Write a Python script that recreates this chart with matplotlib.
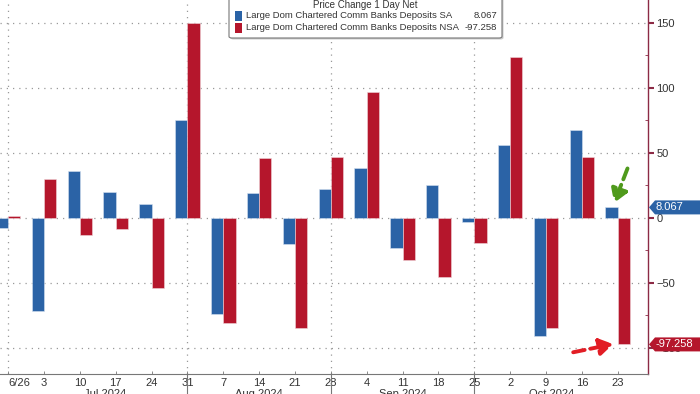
import matplotlib
matplotlib.use("Agg")
import matplotlib.pyplot as plt
import matplotlib.dates as mdates
from matplotlib.patches import Polygon, Rectangle, FancyBboxPatch
import datetime as dt

plt.rcParams["font.family"] = ["Liberation Sans", "DejaVu Sans"]

weeks = ["2024-06-26", "2024-07-03", "2024-07-10", "2024-07-17", "2024-07-24",
         "2024-07-31", "2024-08-07", "2024-08-14", "2024-08-21", "2024-08-28",
         "2024-09-04", "2024-09-11", "2024-09-18", "2024-09-25", "2024-10-02",
         "2024-10-09", "2024-10-16", "2024-10-23"]
sa = [-8, -71.5, 36, 20, 11, 75, -73.5, 19.5, -20, 22,
      38, -23.5, 25.5, -3, 56, -91, 67.5, 8.067]
nsa = [1.2, 30, -13, -8.7, -54, 149.5, -81, 46, -85, 46.5,
       97, -32, -45.5, -19.5, 123.5, -84.5, 46.5, -97.258]
tick_labels = ["6/26", "3", "10", "17", "24", "31", "7", "14", "21", "28",
               "4", "11", "18", "25", "2", "9", "16", "23"]
months = ["Jul 2024", "Aug 2024", "Sep 2024", "Oct 2024"]
month_centers = ["2024-07-15", "2024-08-14", "2024-09-11", "2024-10-10"]
month_breaks = ["2024-07-31", "2024-08-28", "2024-09-25"]
grid_dates = ["2024-06-26", "2024-07-31", "2024-08-28", "2024-09-25"]
legend_title = "Price Change 1 Day Net"
legend_names = ["Large Dom Chartered Comm Banks Deposits SA",
                "Large Dom Chartered Comm Banks Deposits NSA"]
legend_vals = ["8.067", "-97.258"]

BLUE = "#2b63a6"
RED = "#b5162c"
SPINE = "#8c2a45"
TEXT = "#333333"

W, H = 700, 394


def d(s):
    return mdates.date2num(dt.datetime.strptime(s, "%Y-%m-%d"))


def px(xp, yp):
    # pixel position from top-left -> figure fraction
    return xp / W, 1 - yp / H


x = [d(s) for s in weeks]
w = 2.4

fig = plt.figure(figsize=(7, 3.94), dpi=100)
ax = fig.add_axes([0.0, 20 / H, 648 / W, 1 - 20 / H])

ax.bar([v - w / 2 for v in x], sa, width=w, color=BLUE, edgecolor="#d6e2f0", linewidth=0.4, zorder=3)
ax.bar([v + w / 2 for v in x], nsa, width=w, color=RED, edgecolor="#f0d6da", linewidth=0.4, zorder=3)

ax.set_xlim(x[0] - 1.6, x[-1] + 5.9)
ax.set_ylim(-120, 167.5)

# grid
for yv in [150, 100, 50, 0, -50, -100]:
    ax.axhline(yv, color="#999999", lw=0.9, ls=(0, (1, 4)), zorder=1)
for gd in grid_dates:
    ax.axvline(d(gd), color="#999999", lw=0.9, ls=(0, (1, 4)), zorder=1)

# axes styling
ax.yaxis.tick_right()
ax.set_yticks([150, 100, 50, 0, -50, -100])
ax.set_yticks([125, 75, 25, -25, -75], minor=True)
ax.tick_params(axis="y", which="major", direction="out", length=4, width=1.5,
               color=SPINE, labelsize=8, labelcolor=TEXT, pad=2)
ax.tick_params(axis="y", which="minor", direction="in", length=2, width=0.6, color=SPINE)
ax.set_xticks(x)
ax.set_xticklabels(tick_labels)
ax.tick_params(axis="x", direction="in", length=2, width=0.6, color="#777777",
               labelsize=8, labelcolor=TEXT, pad=3)
ax.get_xticklabels()[0].set_ha("left")
for s in ["left", "top"]:
    ax.spines[s].set_visible(False)
ax.spines["right"].set_color(SPINE)
ax.spines["right"].set_linewidth(1.0)
ax.spines["bottom"].set_color("#777777")
ax.spines["bottom"].set_linewidth(0.8)

# month labels and separators
for m, c in zip(months, month_centers):
    ax.text(d(c), -0.04, m, transform=ax.get_xaxis_transform(), ha="center", va="top",
            fontsize=8, color=TEXT, clip_on=False)
for b in month_breaks:
    ax.plot([d(b), d(b)], [0, -0.08], transform=ax.get_xaxis_transform(),
            color="#777777", lw=0.8, clip_on=False)

# legend box drawn by hand so the last values sit right-aligned
x0, x1, ytop, ybot = 229, 502, -6, 38
bx, by = px(x0, ybot)
bw = (x1 - x0) / W
bh = (ybot - ytop) / H
fig.patches.append(FancyBboxPatch((bx + 1.5 / W, by - 1.5 / H), bw, bh,
                                  boxstyle="round,pad=0,rounding_size=0.004",
                                  transform=fig.transFigure, facecolor="#cccccc",
                                  edgecolor="none", zorder=9))
fig.patches.append(FancyBboxPatch((bx, by), bw, bh,
                                  boxstyle="round,pad=0,rounding_size=0.004",
                                  transform=fig.transFigure, facecolor="white",
                                  edgecolor="#777777", lw=0.8, zorder=10))
fig.text(*px(365, 5), legend_title, ha="center", va="center", fontsize=7,
         color=TEXT, zorder=11)
for i, (name, val, col) in enumerate(zip(legend_names, legend_vals, [BLUE, RED])):
    yc = 16 + i * 12
    rx, ry = px(235, yc + 4.5)
    fig.patches.append(Rectangle((rx, ry), 7 / W, 9 / H, transform=fig.transFigure,
                                 facecolor=col, edgecolor="none", zorder=11))
    fig.text(*px(246, yc), name, ha="left", va="center", fontsize=6.8, color=TEXT, zorder=11)
    fig.text(*px(497, yc), val, ha="right", va="center", fontsize=6.8, color=TEXT, zorder=11)


# last value tags on the right
def tag(val, txt, col):
    inv = fig.transFigure.inverted()
    y0 = ax.transData.transform((0, val))[1]
    xs = 649
    h = 7
    pts = [(xs, y0), (xs + 6, y0 + h), (702, y0 + h), (702, y0 - h), (xs + 6, y0 - h)]
    pts = [inv.transform(p) for p in pts]
    fig.patches.append(Polygon(pts, closed=True, transform=fig.transFigure,
                               facecolor=col, edgecolor="none", zorder=5))
    fx, fy = inv.transform((xs + 7, y0))
    fig.text(fx, fy, txt, ha="left", va="center", fontsize=8, color="white", zorder=6)


tag(8.067, "8.067", BLUE)
tag(-97.258, "-97.258", RED)

# hand drawn arrows
ax.annotate("", xy=(x[-1] - 0.7, 11.5), xytext=(x[-1] + 1.9, 38),
            arrowprops=dict(arrowstyle="-|>,head_width=0.5,head_length=0.8",
                            color="#4f9a1c", lw=2.8, ls=(0, (3, 1.5)),
                            shrinkA=0, shrinkB=0), zorder=8)
ax.annotate("", xy=(x[-1] - 0.9, -97.0), xytext=(x[-1] - 8.7, -103.3),
            arrowprops=dict(arrowstyle="-|>,head_width=0.5,head_length=0.8",
                            color="#e21d25", lw=2.8, ls=(0, (3, 1.5)),
                            shrinkA=0, shrinkB=0), zorder=8)

fig.savefig("out.png", dpi=100)
